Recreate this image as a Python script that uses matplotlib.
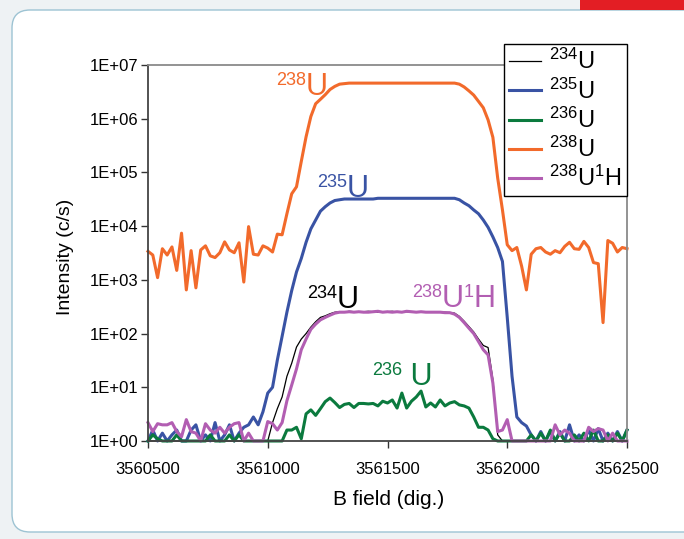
import numpy as np
import matplotlib
matplotlib.use("Agg")
import matplotlib.pyplot as plt
from matplotlib.patches import FancyBboxPatch, Rectangle
from matplotlib.transforms import IdentityTransform, offset_copy
from matplotlib.ticker import NullLocator

plt.rcParams['font.family'] = ['Liberation Sans', 'DejaVu Sans']

# ---------------- data ----------------
b_field = np.arange(3560500, 3562501, 20)

u234 = [1] * 26 + [
    2.2, 4, 6.6, 16,
    28, 56, 79, 100, 132, 166, 200, 214, 234, 250,
    255, 250, 260, 255, 250, 255, 260, 255, 250, 255,
    255, 260, 250, 255, 255, 250, 255, 250, 255, 250,
    250, 250, 250, 245, 240, 209, 170, 135, 107, 79,
    60, 55, 14, 1.3, 1, 1, 1, 1, 1, 1] + [1] * 21

u235 = [1, 1.6, 1, 1.4, 1, 1.3, 1.6, 1, 1, 1.6,
        2.0, 1, 1.3, 1, 2.2, 1, 1.3, 2.0, 1, 1.4,
        1.8, 2.0, 2.8, 2.0, 3.5, 7.8, 10, 32, 89, 250,
        630, 1400, 2500, 5000, 8900, 13000, 19000, 23000, 27000, 30000,
        31000, 32000, 32000, 32000, 32000, 32000, 32000, 32000, 33000, 33000,
        33000, 33000, 33000, 33000, 33000, 33000, 33000, 33000, 33000, 33000,
        33000, 33000, 33000, 33000, 33000, 31000, 27000, 24000, 20000, 17000,
        13000, 9500, 6300, 4000, 2200, 200, 16, 2.8, 2.2, 1.9,
        1.3, 1, 1.5, 1, 1.5, 1, 1.5, 1, 2.0, 1,
        1.3, 1, 1.6, 1, 1.7, 1, 1.4, 1, 1.5, 1, 1.6]

u236 = [1, 1.3, 1.1, 1, 1, 1, 1.3, 1, 1, 1,
        1, 1, 1, 1.3, 1, 1, 1, 1.3, 1, 1.3,
        1, 1, 1, 1, 1, 1, 1, 1, 1, 1.6,
        1.6, 1.8, 1.1, 3.2, 3.8, 3.0, 4.0, 5.4, 6.3, 5.2,
        4.2, 4.8, 5.0, 4.2, 5.0, 5.0, 4.9, 5.0, 4.5, 5.5,
        5.1, 5.8, 4.1, 7.8, 4.1, 5.5, 6.6, 8.5, 4.3, 5.1,
        4.3, 5.8, 4.5, 5.1, 5.4, 4.7, 4.5, 4.1, 2.8, 1.8,
        1.8, 1.6, 1.1, 1, 1, 1, 1, 1, 1, 1,
        1.3, 1, 1.4, 1, 1.6, 1, 1.4, 1, 1, 1.3,
        1, 1.4, 1, 1.6, 1, 1, 1.3, 1, 1.4, 1, 1.6]

u238 = [3400, 2900, 1100, 3800, 2900, 4100, 1500, 7400, 650, 3500,
        710, 3600, 4300, 2800, 2600, 3200, 5100, 3600, 3200, 4900,
        910, 9800, 3000, 2900, 4300, 3900, 3300, 7100, 6900, 17000,
        40000, 54000, 160000, 460000, 1.1e6, 1.9e6, 2.3e6, 2.8e6, 3.5e6, 4.0e6,
        4.4e6, 4.5e6, 4.6e6, 4.6e6, 4.6e6, 4.6e6, 4.6e6, 4.6e6, 4.6e6, 4.6e6,
        4.6e6, 4.6e6, 4.6e6, 4.6e6, 4.6e6, 4.6e6, 4.6e6, 4.6e6, 4.6e6, 4.6e6,
        4.6e6, 4.6e6, 4.6e6, 4.6e6, 4.6e6, 4.4e6, 3.9e6, 3.3e6, 2.75e6, 2.1e6,
        1.6e6, 9.5e5, 4.5e5, 79000, 20000, 4500, 3500, 4000, 1800, 650,
        3000, 3800, 4000, 3300, 3000, 3500, 3200, 4200, 5000, 3800,
        3700, 5200, 4000, 2100, 2000, 160, 5400, 4800, 3300, 4000, 3800]

u238h = [2.2, 1.5, 2.1, 2.0, 2.0, 2.2, 1.5, 1.2, 2.5, 1.5,
         1.4, 1, 2.1, 1.6, 1.4, 1.8, 1.4, 1.8, 2.1, 2.2,
         1, 1.4, 1, 1, 1, 2.3, 2.1, 1.6, 2.2, 5.6,
         11, 22, 50, 79, 120, 150, 180, 200, 220, 240,
         250, 250, 255, 250, 255, 250, 250, 255, 260, 250,
         255, 250, 255, 250, 260, 255, 250, 255, 250, 250,
         250, 250, 245, 245, 230, 200, 160, 126, 100, 71,
         50, 40, 12, 1.5, 1.6, 2.5, 1, 1, 1, 1,
         1, 1, 1, 1, 1, 2.0, 1.3, 1.6, 1.4, 1,
         1, 1, 1.8, 1.5, 1.7, 1.6, 1, 1.4, 1, 1, 1]

series_labels = [r'$\mathregular{^{234}U}$', r'$\mathregular{^{235}U}$',
                 r'$\mathregular{^{236}U}$', r'$\mathregular{^{238}U}$',
                 r'$\mathregular{^{238}U^{1}H}$']
series_colors = ['#000000', '#3953A4', '#0B7A3E', '#F26A2B', '#B25EB2']
series_widths = [0.9, 2.2, 2.2, 2.2, 2.2]

xticks = [3560500, 3561000, 3561500, 3562000, 3562500]
yticks = [1, 10, 100, 1e3, 1e4, 1e5, 1e6, 1e7]
ytick_labels = ['1E+00', '1E+01', '1E+02', '1E+03', '1E+04', '1E+05', '1E+06', '1E+07']

# ---------------- figure ----------------
W, H = 684, 539
fig = plt.figure(figsize=(W / 100, H / 100), dpi=100, facecolor='#EEF2F4')

card = FancyBboxPatch((12, H - 532), 720, 522,
                      boxstyle='round,pad=0,rounding_size=18',
                      transform=IdentityTransform(), facecolor='white',
                      edgecolor='#9DC3D3', linewidth=1.0, zorder=-10)
fig.add_artist(card)
fig.add_artist(Rectangle((580, H - 10), 110, 12, transform=IdentityTransform(),
                         facecolor='#E31E24', edgecolor='none', zorder=-9))

ax = fig.add_axes([148 / W, 1 - 441 / H, 479 / W, 376 / H])
ax.set_facecolor('white')

all_series = [u234, u235, u236, u238, u238h]
for vals, lab, col, lw in zip(all_series, series_labels, series_colors, series_widths):
    ax.plot(b_field, vals, color=col, lw=lw, label=lab, clip_on=False,
            solid_joinstyle='round')

ax.set_yscale('log')
ax.set_ylim(1, 1e7)
ax.set_xlim(xticks[0], xticks[-1])
ax.set_yticks(yticks)
ax.set_yticklabels(ytick_labels)
ax.yaxis.set_minor_locator(NullLocator())
ax.set_xticks(xticks)
ax.set_xticklabels([str(v) for v in xticks])

ax.tick_params(axis='both', direction='out', length=5, width=1.0,
               labelsize=12, color='#333333')
ax.tick_params(axis='x', pad=10)
ax.tick_params(axis='y', pad=2)
for s in ['left', 'bottom']:
    ax.spines[s].set_color('#444444')
    ax.spines[s].set_linewidth(1.3)
for s in ['top', 'right']:
    ax.spines[s].set_color('#8A8A8A')
    ax.spines[s].set_linewidth(1.3)

ax.set_xlabel('B field (dig.)', fontsize=15)
ax.set_ylabel('Intensity (c/s)', fontsize=14)
ax.xaxis.set_label_coords(0.503, -0.13)
ax.yaxis.set_label_coords(-0.155, 0.49)

leg = ax.legend(loc='upper right', bbox_to_anchor=(627 / W, 1 - 44 / H),
                bbox_transform=fig.transFigure, fontsize=17, frameon=True,
                fancybox=False, edgecolor='black', framealpha=1,
                handlelength=1.35, handletextpad=0.35, labelspacing=0.17,
                borderpad=0.22, borderaxespad=0)
leg.get_frame().set_linewidth(1.0)
leg.set_zorder(10)

# ---------------- in-plot labels ----------------
renderer = fig.canvas.get_renderer()


def sup_label(x, y, parts, color, big=22, small=13, rise=7):
    off = 0.0
    for txt, sup in parts:
        tr = offset_copy(ax.transAxes, fig=fig, x=off, y=rise if sup else 0, units='points')
        t = ax.text(x, y, txt, transform=tr, fontsize=small if sup else big,
                    color=color, ha='left', va='baseline')
        bb = t.get_window_extent(renderer)
        off += bb.width * 72.0 / fig.dpi


sup_label(0.267, 0.920, [('238', True), ('U', False)], series_colors[3])
sup_label(0.353, 0.649, [('235', True), ('U', False)], series_colors[1])
sup_label(0.332, 0.354, [('234', True), ('U', False)], series_colors[0])
sup_label(0.551, 0.356, [('238', True), ('U', False), ('1', True), ('H', False)], series_colors[4])
sup_label(0.468, 0.149, [('236', True), (' U', False)], series_colors[2])

fig.savefig('out.png', dpi=100, facecolor=fig.get_facecolor())
